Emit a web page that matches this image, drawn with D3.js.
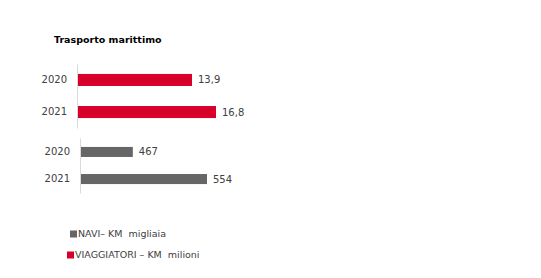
<!DOCTYPE html>
<html>
<head>
<meta charset="utf-8">
<script src="https://cdn.jsdelivr.net/npm/d3@7"></script>
<style>
  body { margin: 0; background: #fff; }
  svg text { font-family: "DejaVu Sans", Verdana, sans-serif; fill: #404040; }
</style>
</head>
<body>
<div id="chart"></div>
<script>
// data
var years = ["2020", "2021"];
var viaggiatori = [13.9, 16.8];   // milioni
var navi = [467, 554];            // migliaia
var legendLabels = ["NAVI\u2013 KM  migliaia", "VIAGGIATORI \u2013 KM  milioni"];

var width = 541, height = 278;
var red = "#d7002a", grey = "#666666";

var svg = d3.select("#chart")
	.append("svg")
	.attr("width", width)
	.attr("height", height);

// title
svg.append("text")
	.attr("x", 54)
	.attr("y", 43)
	.style("font-size", "9.5px")
	.style("font-weight", "bold")
	.style("fill", "#000")
	.text("Trasporto marittimo");

var fmt = function(v) { return String(v).replace(".", ","); };

// draws one small horizontal bar block
function barBlock(vals, opts) {
	var y = d3.scaleBand()
		.domain(years)
		.range([opts.top, opts.bottom])
		.paddingInner(opts.padIn)
		.paddingOuter(opts.padOut);

	var x = d3.scaleLinear()
		.domain(opts.domain)
		.range([opts.left, opts.left + opts.span]);

	var g = svg.append("g");

	var axis = g.append("g")
		.attr("transform", "translate(" + opts.left + ",0)")
		.call(d3.axisLeft(y).tickSize(0).tickPadding(10));
	axis.select(".domain").attr("stroke", "#d9d9d9");
	axis.selectAll("text")
		.style("font-size", "10px")
		.style("fill", "#404040")
		.style("font-family", "'DejaVu Sans', Verdana, sans-serif");

	g.selectAll("rect")
		.data(vals)
		.enter()
		.append("rect")
		.attr("x", opts.left + 1)
		.attr("y", function(d, i) { return y(years[i]); })
		.attr("width", function(d) { return x(d) - opts.left - 1; })
		.attr("height", y.bandwidth())
		.attr("fill", opts.color);

	g.selectAll(".val")
		.data(vals)
		.enter()
		.append("text")
		.attr("class", "val")
		.attr("x", function(d) { return x(d) + 6; })
		.attr("y", function(d, i) { return y(years[i]) + y.bandwidth() / 2; })
		.attr("dy", "0.35em")
		.style("font-size", "10px")
		.text(function(d) { return fmt(d); });
}

barBlock(viaggiatori, {
	top: 64, bottom: 128, left: 77, span: 139 * 20 / 16.8,
	domain: [0, 20], padIn: 0.625, padOut: 0.31, color: red
});

barBlock(navi, {
	top: 138, bottom: 193, left: 80, span: 127,
	domain: [405, 554], padIn: 0.63, padOut: 0.33, color: grey
});

// legend
var legend = svg.selectAll(".legend")
	.data([{label: legendLabels[0], color: grey, x: 70, y: 234},
	       {label: legendLabels[1], color: red, x: 67, y: 255}])
	.enter()
	.append("g")
	.attr("class", "legend")
	.attr("transform", function(d) { return "translate(" + d.x + "," + d.y + ")"; });

legend.append("rect")
	.attr("x", 0)
	.attr("y", -3.5)
	.attr("width", 7)
	.attr("height", 7)
	.attr("fill", function(d) { return d.color; });

legend.append("text")
	.attr("x", 8)
	.attr("y", 0)
	.attr("dy", "0.35em")
	.style("font-size", "9.5px")
	.style("white-space", "pre")
	.text(function(d) { return d.label; });
</script>
</body>
</html>
